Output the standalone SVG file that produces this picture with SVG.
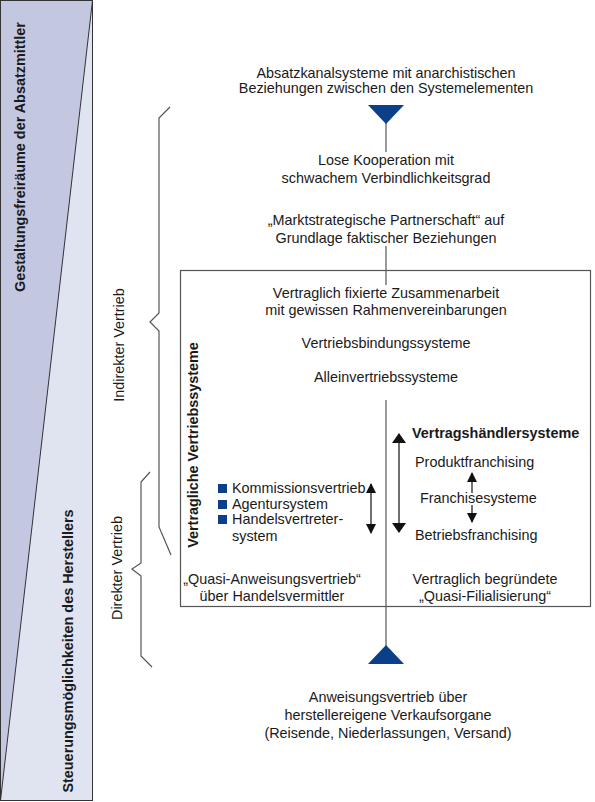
<svg xmlns="http://www.w3.org/2000/svg" width="595" height="802" viewBox="0 0 595 802">
<defs>
<style>
text{font-family:"Liberation Sans",Arial,sans-serif;font-size:14.4px;fill:#1a1a1a}
.c{text-anchor:middle}
.b{font-weight:bold}
.ln{stroke:#555;stroke-width:1.2;fill:none}
.ar{stroke:#111;stroke-width:1.2;fill:none}
.blue{fill:#0b3f8a}
</style>
<marker id="ah" viewBox="0 0 10 10" refX="9" refY="5" markerWidth="10" markerHeight="10" markerUnits="userSpaceOnUse" orient="auto-start-reverse"><path d="M0,0L10,5L0,10Z" fill="#111"/></marker>
<marker id="ahL" viewBox="0 0 10 14" refX="9" refY="7" markerWidth="10" markerHeight="14" markerUnits="userSpaceOnUse" orient="auto-start-reverse"><path d="M0,0L10,7L0,14Z" fill="#111"/></marker>
</defs>
<g id="side-panel">
<rect x="0.5" y="0.5" width="92" height="800" fill="#e0e3f0"/>
<polygon points="0.5,0.5 92.5,0.5 0.5,800.5" fill="#c3c8e0"/>
<line x1="92.5" y1="0.5" x2="0.5" y2="800.5" stroke="#333" stroke-width="1"/>
<rect x="0.5" y="0.5" width="92" height="800" fill="none" stroke="#333" stroke-width="1"/>
<text class="c b" transform="translate(25,157) rotate(-90)">Gestaltungsfreiräume der Absatzmittler</text>
<text class="c b" transform="translate(73,651) rotate(-90)">Steuerungsmöglichkeiten des Herstellers</text>
</g>
<g id="brackets">
<polyline class="ln" points="170,107 159,118 159,313 150,322 159,331 159,527 171,555"/>
<polyline class="ln" points="150,472 141,482 141,563 132,569 141,576 141,656 152,667"/>
<text class="c" transform="translate(124,345) rotate(-90)">Indirekter Vertrieb</text>
<text class="c" transform="translate(122,568) rotate(-90)">Direkter Vertrieb</text>
</g>
<g id="main-box">
<rect x="180.5" y="270.5" width="410" height="336" fill="none" stroke="#555" stroke-width="1.2"/>
<text class="c b" transform="translate(198,445) rotate(-90)">Vertragliche Vertriebssysteme</text>
</g>
<g id="connectors">
<line class="ln" x1="386" y1="115" x2="386" y2="152"/>
<line class="ln" x1="386" y1="246" x2="386" y2="285"/>
<line class="ln" x1="386" y1="400" x2="386" y2="655"/>
</g>
<g id="top-node">
<polygon class="blue" points="368,105 404,105 386,124"/>
<text class="c" x="386" y="78">Absatzkanalsysteme mit anarchistischen</text>
<text class="c" x="386" y="93">Beziehungen zwischen den Systemelementen</text>
</g>
<g id="lose-kooperation">
<text class="c" x="386" y="165">Lose Kooperation mit</text>
<text class="c" x="386" y="183">schwachem Verbindlichkeitsgrad</text>
</g>
<g id="partnerschaft">
<text class="c" x="386" y="225">„Marktstrategische Partnerschaft“ auf</text>
<text class="c" x="386" y="243">Grundlage faktischer Beziehungen</text>
</g>
<g id="zusammenarbeit">
<text class="c" x="386" y="298">Vertraglich fixierte Zusammenarbeit</text>
<text class="c" x="386" y="315">mit gewissen Rahmenvereinbarungen</text>
</g>
<g id="vertriebsbindung"><text class="c" x="386" y="348">Vertriebsbindungssysteme</text></g>
<g id="alleinvertrieb"><text class="c" x="386" y="382">Alleinvertriebssysteme</text></g>
<g id="vertragshaendler">
<text class="b" x="412" y="438">Vertragshändlersysteme</text>
<line class="ar" x1="399" y1="434" x2="399" y2="532" marker-start="url(#ahL)" marker-end="url(#ahL)"/>
<text x="415" y="467">Produktfranchising</text>
<text x="420" y="503">Franchisesysteme</text>
<text x="415" y="540">Betriebsfranchising</text>
<line class="ar" x1="472" y1="473" x2="472" y2="493" marker-start="url(#ah)"/>
<line class="ar" x1="472" y1="505" x2="472" y2="522" marker-end="url(#ah)"/>
</g>
<g id="handelsvermittler">
<rect class="blue" x="218" y="484" width="9" height="9"/>
<rect class="blue" x="218" y="500" width="9" height="9"/>
<rect class="blue" x="218" y="515" width="9" height="9"/>
<text x="232" y="493">Kommissionsvertrieb</text>
<text x="232" y="509">Agentursystem</text>
<text x="232" y="524">Handelsvertreter-</text>
<text x="232" y="541">system</text>
<line class="ar" x1="371" y1="484" x2="371" y2="533" marker-start="url(#ah)" marker-end="url(#ah)"/>
</g>
<g id="quasi-anweisung">
<text class="c" x="272" y="584">„Quasi-Anweisungsvertrieb“</text>
<text class="c" x="272" y="601">über Handelsvermittler</text>
</g>
<g id="quasi-filial">
<text class="c" x="485" y="584">Vertraglich begründete</text>
<text class="c" x="485" y="601">„Quasi-Filialisierung“</text>
</g>
<g id="bottom-node">
<polygon class="blue" points="386,645 404,664 368,664"/>
<text class="c" x="388" y="702">Anweisungsvertrieb über</text>
<text class="c" x="388" y="720">herstellereigene Verkaufsorgane</text>
<text class="c" x="388" y="738">(Reisende, Niederlassungen, Versand)</text>
</g>
</svg>
